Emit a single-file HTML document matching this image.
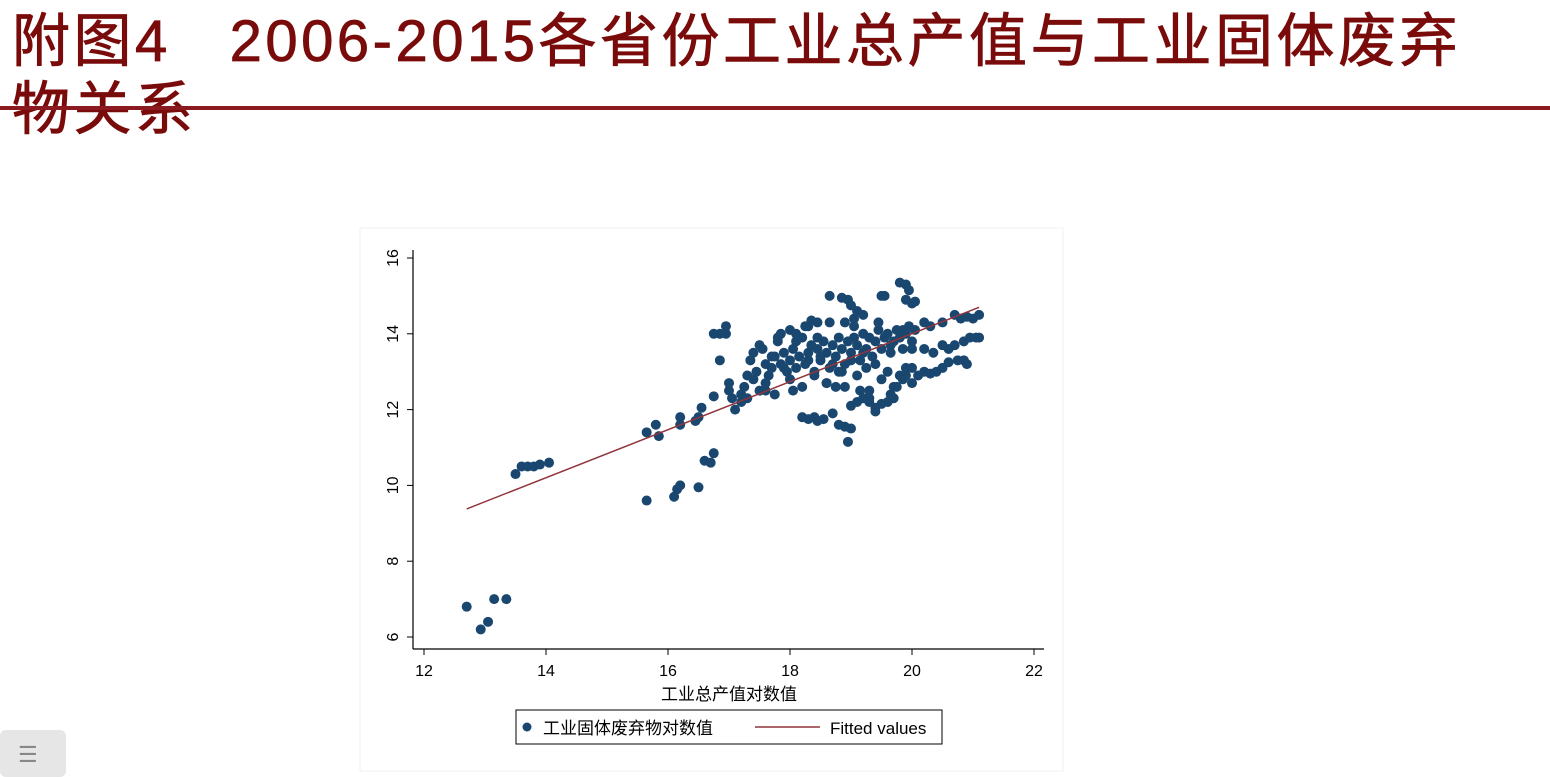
<!DOCTYPE html>
<html><head><meta charset="utf-8"><style>
body{margin:0;width:1550px;height:777px;background:#fff;overflow:hidden;position:relative;font-family:"Liberation Sans","Noto Sans CJK SC",sans-serif}
.t{position:absolute;color:#7a0b0b;font-size:58px;letter-spacing:3.5px;-webkit-text-stroke:0.8px #7a0b0b;font-family:"Liberation Sans","Noto Sans CJK SC",sans-serif;line-height:1;white-space:nowrap}
</style></head><body>
<div class="t" style="left:12px;top:13px">附图4&nbsp;&nbsp;&nbsp;2006-2015各省份工业总产值与工业固体废弃</div>
<div class="t" style="left:12px;top:81px">物关系</div>
<div style="position:absolute;left:0;top:106px;width:1550px;height:4px;background:#8a1a1f"></div>
<div style="position:absolute;left:0;top:730px;width:66px;height:47px;background:#e6e6e6;border-radius:6px"><div style="position:absolute;left:18px;top:14px;color:#888;font-size:22px;line-height:1">☰</div></div>
<svg id="chart" width="1550" height="777" style="position:absolute;left:0;top:0">
<rect x="360" y="228" width="703" height="543" fill="#fff" stroke="#f0f0f0"/>
</svg>
<script>
const xTicks=[12,14,16,18,20,22];
const yTicks=[6,8,10,12,14,16];
const xs=[12.7,12.93,13.05,13.15,13.35,13.5,13.6,13.7,13.8,13.9,14.05,15.65,15.65,15.8,15.85,16.1,16.15,16.2,16.2,16.2,16.45,16.5,16.55,16.5,16.6,16.7,16.75,16.75,16.75,16.85,16.95,16.95,17.0,16.85,17.05,17.1,17.2,17.25,17.3,17.35,17.4,17.45,17.5,17.55,17.6,17.65,17.7,17.75,17.8,17.85,17.9,17.95,18.0,18.05,18.1,18.15,18.2,18.25,18.3,18.35,18.4,18.45,18.5,18.55,18.6,18.65,18.7,18.75,18.8,18.85,18.9,18.95,19.0,19.05,19.1,19.15,19.2,19.25,19.3,19.35,19.4,19.45,19.5,19.55,19.6,19.65,19.7,19.75,19.8,19.85,19.9,19.95,20.0,20.05,17.4,17.6,17.8,17.9,18.0,18.1,18.2,18.3,18.4,18.5,18.6,18.7,18.8,18.9,19.0,19.1,19.2,19.3,19.4,19.5,19.6,19.7,19.8,19.9,20.0,17.3,17.5,17.7,17.85,18.05,18.25,18.45,18.65,18.85,19.05,19.25,19.45,19.65,19.85,18.65,18.85,18.95,19.0,19.1,19.2,19.5,19.55,19.8,19.9,19.95,19.9,20.05,20.0,18.45,18.9,19.05,18.3,18.35,18.0,18.1,20.2,20.3,20.5,20.7,20.8,20.9,21.0,21.1,20.6,20.7,20.85,20.95,21.05,21.1,20.4,20.5,20.6,20.75,20.85,20.9,20.3,20.2,20.1,20.0,18.2,18.3,18.4,18.45,18.55,18.7,18.8,18.9,19.0,18.95,19.0,19.1,19.2,19.3,19.4,19.5,19.6,19.65,19.4,19.75,19.85,19.9,20.0,20.2,20.35,20.5,19.3,19.7,18.6,18.75,19.15,17.6,17.75,17.2,17.0];
const ys=[6.8,6.2,6.4,7.0,7.0,10.3,10.5,10.5,10.5,10.55,10.6,9.6,11.4,11.6,11.3,9.7,9.9,10.0,11.6,11.8,11.7,11.8,12.05,9.95,10.65,10.6,10.85,12.35,14.0,14.0,14.2,14.0,12.7,13.3,12.3,12.0,12.4,12.6,12.9,13.3,12.8,13.0,12.5,13.6,13.2,12.9,13.1,13.4,13.8,13.2,13.5,13.0,13.3,13.6,13.1,13.4,13.9,13.2,13.5,13.7,13.0,13.6,13.3,13.8,13.5,13.1,13.7,13.4,13.9,13.6,13.2,13.8,13.5,13.9,13.7,13.3,14.0,13.6,13.9,13.4,13.8,14.1,13.6,13.9,14.0,13.5,13.8,14.1,13.9,13.6,14.0,14.2,13.8,14.1,13.5,12.7,13.9,13.1,12.8,13.8,12.6,13.3,12.9,13.4,12.7,13.2,13.0,12.6,13.3,12.9,13.5,12.5,13.2,12.8,13.0,12.3,12.9,13.1,13.6,12.3,13.7,13.4,14.0,12.5,14.2,13.9,14.3,13.0,14.2,13.1,14.3,13.7,14.1,15.0,14.95,14.9,14.75,14.6,14.5,15.0,15.0,15.35,15.3,15.15,14.9,14.85,14.8,14.3,14.3,14.4,14.2,14.35,14.1,14.0,14.3,14.2,14.3,14.5,14.4,14.45,14.4,14.5,13.6,13.7,13.8,13.9,13.9,13.9,13.0,13.1,13.25,13.3,13.3,13.2,12.95,13.0,12.9,12.7,11.8,11.75,11.8,11.7,11.75,11.9,11.6,11.55,11.5,11.15,12.1,12.2,12.3,12.2,12.05,12.15,12.2,12.4,11.95,12.6,12.8,12.9,13.1,13.6,13.5,13.7,12.3,12.6,12.7,12.6,12.5,12.5,12.4,12.2,12.5];
const fitX=[12.7,21.1];
const fitY=[9.38,14.7];
const NS='http://www.w3.org/2000/svg';
const svg=document.getElementById('chart');
const sx=v=>424+(v-12)*61;
const sy=v=>637-(v-6)*37.9;
function mk(t,a){const e=document.createElementNS(NS,t);for(const k in a)e.setAttribute(k,a[k]);svg.appendChild(e);return e;}
let ax=mk('line',{x1:413,y1:250,x2:413,y2:649,stroke:'#000','stroke-width':1.2});


ax=mk('line',{x1:413,y1:649,x2:1044,y2:649,stroke:'#000','stroke-width':1.2});


xTicks.forEach(v=>{
 mk('line',{x1:sx(v),y1:649,x2:sx(v),y2:655,stroke:'#000'});
 const t=mk('text',{x:sx(v),y:676,'text-anchor':'middle','font-size':16,fill:'#000'});t.textContent=v;
 
 
});
yTicks.forEach(v=>{
 mk('line',{x1:407,y1:sy(v),x2:413,y2:sy(v),stroke:'#000'});
 const t=mk('text',{x:398,y:sy(v),'text-anchor':'middle','font-size':16,fill:'#000',transform:`rotate(-90 398 ${sy(v)})`});t.textContent=v;
 
 
});
for(let i=0;i<xs.length;i++){
 const c=mk('circle',{cx:sx(xs[i]),cy:sy(ys[i]),r:5,fill:'#1a476f'});
 
 
}
const fl=mk('line',{x1:sx(fitX[0]),y1:sy(fitY[0]),x2:sx(fitX[1]),y2:sy(fitY[1]),stroke:'#90353b','stroke-width':1.5});


const xt=mk('text',{x:729,y:700,'text-anchor':'middle','font-size':17,fill:'#000'});xt.textContent='工业总产值对数值';


const lg=mk('rect',{x:516,y:710,width:426,height:34,fill:'#fff',stroke:'#000','stroke-width':1});


const lm=mk('circle',{cx:527,cy:727,r:4.5,fill:'#1a476f'});


let lt=mk('text',{x:543,y:734,'font-size':17,fill:'#000'});lt.textContent='工业固体废弃物对数值';


const ll=mk('line',{x1:755,y1:727,x2:820,y2:727,stroke:'#90353b','stroke-width':1.5});


lt=mk('text',{x:830,y:734,'font-size':17,fill:'#000'});lt.textContent='Fitted values';


</script>
</body></html>
